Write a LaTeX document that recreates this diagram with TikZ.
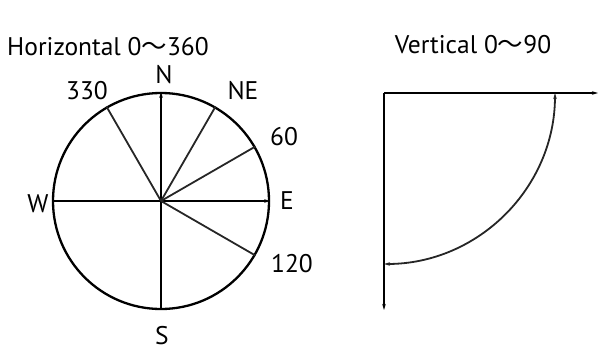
\documentclass[tikz,border=0pt]{standalone}
\usepackage{fontspec}
\setmainfont{PT Sans}
\newfontfamily\cjk{Noto Sans CJK SC}
\usetikzlibrary{arrows.meta}
\newcommand{\wave}{{\cjk ～}}
\begin{document}
\begin{tikzpicture}[x=1pt,y=-1pt,
  lbl/.style={font=\fontsize{25.5}{28}\selectfont, inner sep=0pt, anchor=center},
  axis/.style={line width=2.3pt, black},
  ray/.style={line width=1.8pt, black!85},
  tip/.style={-{Stealth[length=6pt,width=3.5pt]}},
  tips/.style={{Stealth[length=6pt,width=3.5pt]}-{Stealth[length=6pt,width=3.5pt]}}]
\useasboundingbox (0,0) rectangle (616,356);
% left panel
\node[lbl] (ht) at (108,47) {Horizontal 0\wave360};
\coordinate (c) at (161,201);
\node[draw, circle, line width=2.3pt, minimum size=216pt, inner sep=0pt] (circ) at (c) {};
\draw[axis, tip] (c) -- (circ.north);
\draw[axis, tip] (c) -- (circ.east);
\draw[axis] (c) -- (circ.west);
\draw[axis] (c) -- (circ.south);
\draw[ray] (c) -- (circ.120);
\draw[ray] (c) -- (circ.60);
\draw[ray] (c) -- (circ.30);
\draw[ray] (c) -- (circ.-30);
\node[lbl] (n) at (164,75) {N};
\node[lbl] (l330) at (87,91) {330};
\node[lbl] (ne) at (243,91) {NE};
\node[lbl] (l60) at (284,137) {60};
\node[lbl] (e) at (287,201) {E};
\node[lbl] (w) at (38,204) {W};
\node[lbl] (l120) at (292,264) {120};
\node[lbl] (s) at (162,336) {S};
% right panel
\node[lbl] (vt) at (473,45) {Vertical 0\wave90};
\coordinate (o) at (384,93);
\coordinate (hx) at (598,93);
\coordinate (vy) at (384,310);
\coordinate (a1) at (555,93);
\coordinate (a2) at (384,264);
\draw[axis, tip] (o) -- (hx);
\draw[axis, tip] (o) -- (vy);
\draw[ray, tips] (a1) arc[start angle=0, end angle=-90, x radius=171, y radius=-171];
\end{tikzpicture}
\end{document}
